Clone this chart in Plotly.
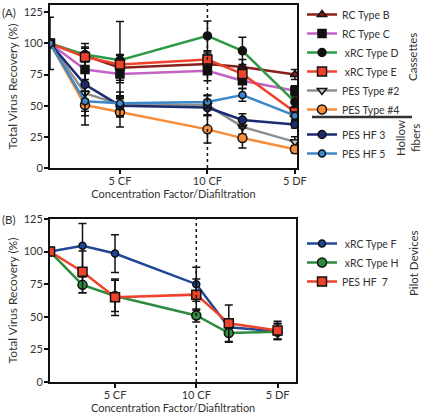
import plotly.graph_objects as go

# ---------------- data ----------------
x_vals = [1, 3, 5, 10, 12, 15]
tick_vals = [5, 10, 15]
tick_text = ["5 CF", "10 CF", "5 DF"]
divider_x = 10
y_ticks = [0, 25, 50, 75, 100, 125]

a_names = ["RC Type B", "RC Type C", "\u00a0xRC Type D", "\u00a0xRC Type E",
           "PES Type #2", "PES Type #4", "PES HF 3", "PES HF 5"]
a_groups = ["cas", "cas", "cas", "cas", "cas", "cas", "hf", "hf"]
rc_b = [100, 90, 80.5, 83.5, 81, 75]
rc_c = [100, 79, 75.5, 78, 70, 62]
xrc_d = [100, 91, 86.5, 106, 94, 53]
xrc_e = [100, 89, 83, 87, 75.5, 45]
pes_2 = [100, 60, 51, 50.5, 33, 21]
pes_4 = [100, 50.5, 45, 31, 24, 15]
pes_hf3 = [100, 67, 50, 48.5, 38.5, 35]
pes_hf5 = [100, 53.5, 52, 53, 58.5, 42]
a_vals = [rc_b, rc_c, xrc_d, xrc_e, pes_2, pes_4, pes_hf3, pes_hf5]

err_rc_b = [21, 10, 10, 8, 6, 4]
err_rc_c = [0, 8, 7, 8, 6, 4]
err_xrc_d = [0, 6, 31, 12, 11, 4]
err_xrc_e = [0, 7, 8, 6, 6, 4]
err_pes_2 = [0, 18, 10, 8, 6, 4]
err_pes_4 = [0, 16, 12, 11, 8, 3]
err_hf3 = [0, 12, 8, 6, 5, 3]
err_hf5 = [0, 8, 5, 5, 5, 3]
a_errs = [err_rc_b, err_rc_c, err_xrc_d, err_xrc_e, err_pes_2, err_pes_4, err_hf3, err_hf5]

b_names = ["\u00a0xRC Type F", "\u00a0xRC Type H", "PES HF  7"]
xrc_f = [100, 104.5, 98.5, 75, 42, 39]
xrc_h = [100, 74.5, 66, 51, 37.5, 38.5]
pes_hf7 = [100, 84.5, 65, 67, 45, 39.5]
b_vals = [xrc_f, xrc_h, pes_hf7]
err_f = [0, 17, 14.5, 13, 6, 6]
err_h = [0, 6, 12, 5, 7, 6]
err_hf7 = [0, 16, 14, 12, 14, 7]
b_errs = [err_f, err_h, err_hf7]

# ---------------- styles ----------------
a_line_colors = ["#8b1f1a", "#c463c4", "#2f9a45", "#f0412a", "#8e8e8e", "#f58d3a", "#1c2a6e", "#3d88c8"]
a_marker_colors = ["#8b1f1a", "#111111", "#111111", "#f0412a", "#c8c8c8", "#f58d3a", "#1c2a6e", "#3d88c8"]
a_symbols = ["triangle-up", "square", "circle", "square", "triangle-down", "circle", "circle", "circle"]
a_sizes = [8, 8, 8, 9, 8, 9, 8, 7]

b_line_colors = ["#1f4796", "#2f8c3e", "#f0412a"]
b_marker_colors = ["#1f4796", "#2f8c3e", "#f0412a"]
b_symbols = ["circle", "circle", "square"]
b_sizes = [7, 9, 9]

FONT = "Lato"
TXT = "#333333"

fig = go.Figure()

for name, grp, ys, es, lc, mc, sym, sz in zip(a_names, a_groups, a_vals, a_errs,
                                                 a_line_colors, a_marker_colors, a_symbols, a_sizes):
    fig.add_trace(go.Scatter(
        x=x_vals, y=ys, name=name, mode="lines+markers",
        legend="legend", legendgroup=grp,
        line=dict(color=lc, width=2.5),
        marker=dict(symbol=sym, size=sz, color=mc, line=dict(color="#111111", width=1.5)),
        error_y=dict(type="data", array=es, visible=True, color="#111111", thickness=1.5, width=4),
        xaxis="x", yaxis="y",
    ))

for name, ys, es, lc, mc, sym, sz in zip(b_names, b_vals, b_errs,
                                          b_line_colors, b_marker_colors, b_symbols, b_sizes):
    fig.add_trace(go.Scatter(
        x=x_vals, y=ys, name=name, mode="lines+markers",
        legend="legend2",
        line=dict(color=lc, width=2.5),
        marker=dict(symbol=sym, size=sz, color=mc, line=dict(color="#111111", width=1.5)),
        error_y=dict(type="data", array=es, visible=True, color="#111111", thickness=1.5, width=4),
        xaxis="x2", yaxis="y2",
    ))

W, H = 424, 417
ml, mr, mt, mb = 50, 127, 5, 35
ph = H - mt - mb

def py(px):
    return (H - mb - px) / ph

def pxx(px):
    return (px - ml) / (W - ml - mr)

axis_common = dict(showline=True, linecolor="#111111", linewidth=2, mirror=True,
                   ticks="outside", ticklen=4, tickwidth=1.5, tickcolor="#111111",
                   showgrid=False, zeroline=False, automargin=False,
                   tickfont=dict(family=FONT, size=11, color=TXT))

xt_font = dict(family=FONT, size=11, color=TXT)
yt_font = dict(family=FONT, size=12, color=TXT)

fig.update_layout(
    width=W, height=H,
    margin=dict(l=ml, r=mr, t=mt, b=mb, autoexpand=False),
    paper_bgcolor="white", plot_bgcolor="white",
    font=dict(family=FONT, size=11, color=TXT),
    xaxis=dict(domain=[0, 1], range=[1, 15.12], tickvals=tick_vals, ticktext=tick_text,
               anchor="y", ticklabelstandoff=-2,
               title=dict(text="Concentration Factor/Diafiltration", standoff=0, font=xt_font),
               **axis_common),
    yaxis=dict(domain=[py(168), py(5)], range=[0, 130.8], tickvals=y_ticks, anchor="x",
               ticklabelstandoff=-1,
               title=dict(text="Total Virus Recovery (%)", standoff=3, font=yt_font),
               **axis_common),
    xaxis2=dict(domain=[0, 0.997], range=[1, 16.15], tickvals=tick_vals, ticktext=tick_text,
                anchor="y2", ticklabelstandoff=-2,
                title=dict(text="Concentration Factor/Diafiltration", standoff=0, font=xt_font),
                **axis_common),
    yaxis2=dict(domain=[py(382), py(219)], range=[0, 125], tickvals=y_ticks, anchor="x2",
                ticklabelstandoff=-1,
                title=dict(text="Total Virus Recovery (%)", standoff=3, font=yt_font),
                **axis_common),
    legend=dict(xref="container", yref="container", x=302 / W, y=1 + 1 / H,
                xanchor="left", yanchor="top", traceorder="grouped", tracegroupgap=6,
                font=dict(family=FONT, size=10.5, color=TXT), bgcolor="rgba(0,0,0,0)",
                itemwidth=30),
    legend2=dict(xref="container", yref="container", x=302 / W, y=1 - 229 / H,
                 xanchor="left", yanchor="top",
                 font=dict(family=FONT, size=10.5, color=TXT), bgcolor="rgba(0,0,0,0)",
                 itemwidth=30),
    showlegend=True,
)

# dotted divider at 10 CF in both panels
fig.add_shape(type="line", xref="x", yref="y domain", x0=divider_x, x1=divider_x, y0=0, y1=1,
              line=dict(color="#111111", width=1.5, dash="dot"))
fig.add_shape(type="line", xref="x2", yref="y2 domain", x0=divider_x, x1=divider_x, y0=0, y1=1,
              line=dict(color="#111111", width=1.5, dash="dot"))

# legend separator line
fig.add_shape(type="line", xref="paper", yref="paper", x0=pxx(312), x1=pxx(412),
              y0=py(117), y1=py(117), line=dict(color="#333333", width=2.5))

ann = dict(showarrow=False, font=dict(family=FONT, size=11.5, color=TXT))
fig.add_annotation(text="(A)", xref="paper", yref="paper", x=pxx(0), y=py(12),
                   xanchor="left", yanchor="middle", **ann)
fig.add_annotation(text="(B)", xref="paper", yref="paper", x=pxx(0), y=py(219),
                   xanchor="left", yanchor="middle", **ann)
fig.add_annotation(text="Cassettes", textangle=-90, xref="paper", yref="paper",
                   x=pxx(412), y=py(57), xanchor="center", yanchor="middle", **ann)
fig.add_annotation(text="Hollow<br>fibers", textangle=-90, xref="paper", yref="paper",
                   x=pxx(408), y=py(138), xanchor="center", yanchor="middle", **ann)
fig.add_annotation(text="Pilot Devices", textangle=-90, xref="paper", yref="paper",
                   x=pxx(413), y=py(263), xanchor="center", yanchor="middle", **ann)

fig.write_html("out.html")
